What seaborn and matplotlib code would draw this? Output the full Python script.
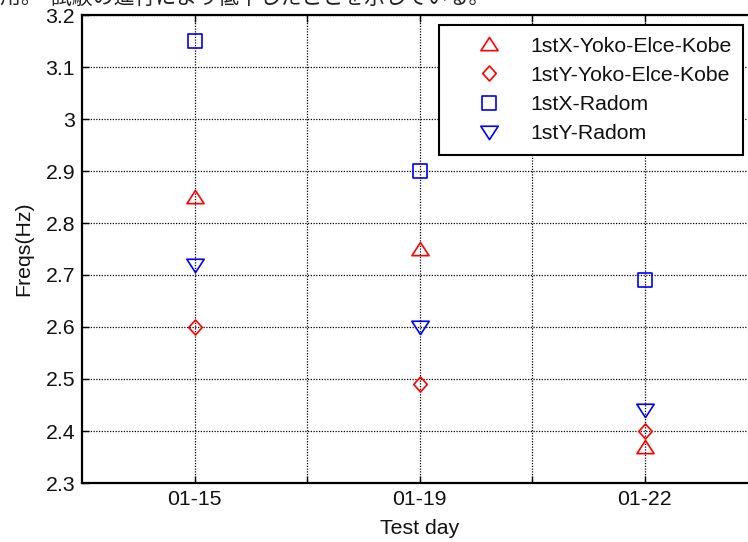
import matplotlib
matplotlib.use("Agg")
import matplotlib.pyplot as plt
import seaborn as sns
import pandas as pd
import numpy as np
from matplotlib.path import Path
from matplotlib.ticker import FormatStrFormatter, FixedLocator

# ---- data ----
days = ["01-15", "01-19", "01-22"]
x_yoko = [2.85, 2.75, 2.37]
y_yoko = [2.60, 2.49, 2.40]
x_radom = [3.15, 2.90, 2.69]
y_radom = [2.72, 2.60, 2.44]
series_names = ["1stX-Yoko-Elce-Kobe", "1stY-Yoko-Elce-Kobe", "1stX-Radom", "1stY-Radom"]
y_ticks = [2.3, 2.4, 2.5, 2.6, 2.7, 2.8, 2.9, 3.0, 3.1, 3.2]

sns.set_theme(style="white")
plt.rcParams['font.family'] = ['Liberation Sans', 'DejaVu Sans']

fs = 15.3

# custom MATLAB-like markers (wider triangles, taller diamond)
tri_up = Path([(-1, -0.72), (1, -0.72), (0, 0.82), (-1, -0.72)],
              [Path.MOVETO, Path.LINETO, Path.LINETO, Path.CLOSEPOLY])
tri_dn = Path([(-1, 0.72), (1, 0.72), (0, -0.82), (-1, 0.72)],
              [Path.MOVETO, Path.LINETO, Path.LINETO, Path.CLOSEPOLY])
diamond = Path([(0, 1), (0.9, 0), (0, -1), (-0.9, 0), (0, 1)],
               [Path.MOVETO, Path.LINETO, Path.LINETO, Path.LINETO, Path.CLOSEPOLY])
square = Path([(-1, -1), (1, -1), (1, 1), (-1, 1), (-1, -1)],
              [Path.MOVETO, Path.LINETO, Path.LINETO, Path.LINETO, Path.CLOSEPOLY])

styles = {
    "1stX-Yoko-Elce-Kobe": dict(marker=tri_up, color="#ff0000", ms=12.3),
    "1stY-Yoko-Elce-Kobe": dict(marker=diamond, color="#ff0000", ms=10.8),
    "1stX-Radom": dict(marker=square, color="#0000ff", ms=9.8),
    "1stY-Radom": dict(marker=tri_dn, color="#0000ff", ms=12.5),
}

frames = []
for name, vals in zip(series_names, [x_yoko, y_yoko, x_radom, y_radom]):
    frames.append(pd.DataFrame({"day": days, "freq": vals, "series": name}))
df = pd.concat(frames, ignore_index=True)
df["pos"] = df["day"].map({d: i for i, d in enumerate(days)})

fig = plt.figure(figsize=(7.48, 5.42), dpi=100)
ax = fig.add_axes([82 / 748, (542 - 483) / 542, 675 / 748, 468 / 542])

for name in series_names:
    sub = df[df["series"] == name]
    st = styles[name]
    sns.lineplot(data=sub, x="pos", y="freq", ax=ax, linestyle="", marker=st["marker"],
                 markersize=st["ms"], markerfacecolor="none", markeredgecolor=st["color"],
                 markeredgewidth=1.2, color=st["color"], label=name, errorbar=None,
                 sort=False)

ax.set_xlim(-0.5, 2.5)
ax.set_ylim(2.3, 3.2)
ax.xaxis.set_major_locator(FixedLocator([0, 0.5, 1, 1.5, 2]))
ax.set_xticklabels([days[0], "", days[1], "", days[2]])
ax.yaxis.set_major_locator(FixedLocator(y_ticks))
ax.yaxis.set_major_formatter(FormatStrFormatter('%g'))

ax.grid(True, color="black", linestyle=(0, (1, 1.2)), linewidth=0.9)
ax.set_axisbelow(True)
for sp in ax.spines.values():
    sp.set_color("black")
    sp.set_linewidth(1.6)
ax.tick_params(direction="in", length=5, width=1, colors="black", labelsize=fs,
               top=True, right=True, left=True, bottom=True, pad=5)
for lab in ax.get_xticklabels() + ax.get_yticklabels():
    lab.set_color("#111111")

ax.set_xlabel("Test day", fontsize=fs, color="#111111", labelpad=7)
ax.set_ylabel("Freqs(Hz)", fontsize=fs, color="#111111", labelpad=9)

leg = ax.legend(loc="upper right", bbox_to_anchor=(743 / 748, (542 - 25) / 542),
                bbox_transform=fig.transFigure, borderaxespad=0, fontsize=fs,
                frameon=True, fancybox=False, shadow=False, handlelength=3.6,
                handletextpad=0.15, labelspacing=0.48, borderpad=0.55, numpoints=1)
leg.get_frame().set_edgecolor("black")
leg.get_frame().set_linewidth(1.5)
leg.get_frame().set_alpha(1)
for t in leg.get_texts():
    t.set_color("#111111")

# cropped caption line from the source document (only its lower part is visible)
fig.text(0.0, 1 - 4 / 542, "用。  試験の進行により低下したことを示している。",
         fontsize=15, va="baseline", ha="left",
         family=["Noto Sans CJK JP", "DejaVu Sans"], color="#222222")

fig.savefig("out.png", dpi=100)
